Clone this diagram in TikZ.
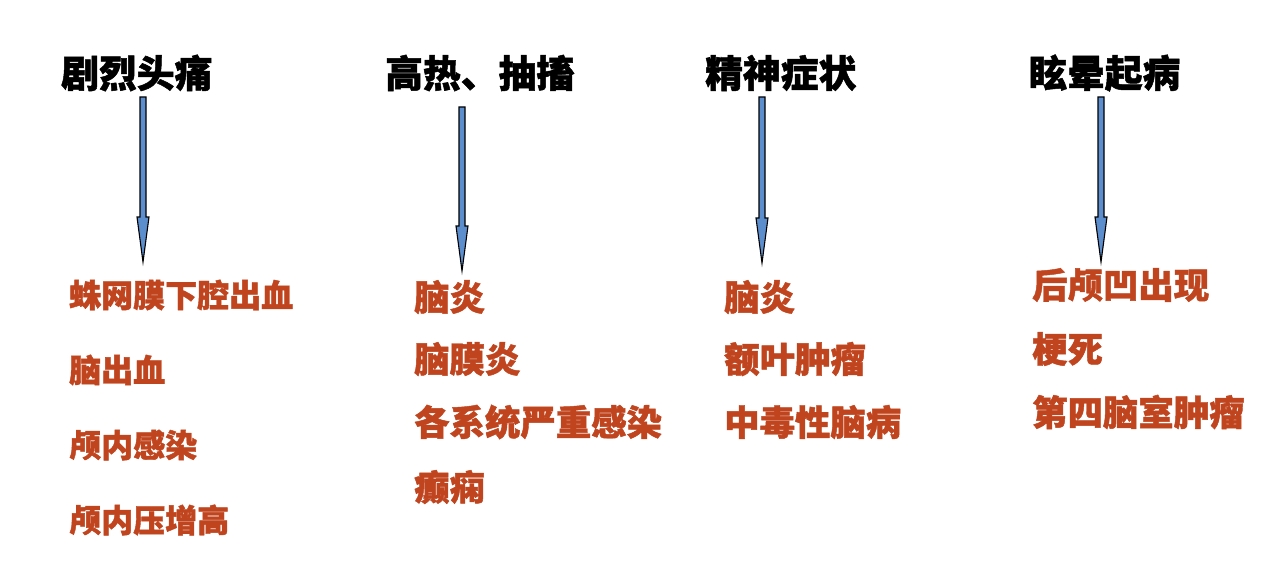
\documentclass[tikz,border=0pt]{standalone}
\usepackage{fontspec}
\newfontfamily\cjk[BoldFeatures={FakeBold=1.3}]{Noto Sans CJK SC}
\usetikzlibrary{calc}
\definecolor{itemred}{RGB}{192,68,30}
\definecolor{arrowblue}{RGB}{92,142,205}
\tikzset{
  title/.style={anchor=west,inner sep=0pt,font=\cjk\bfseries\fontsize{37.8}{40}\selectfont,text=black},
  item/.style={anchor=west,inner sep=0pt,font=\cjk\bfseries\fontsize{35.4}{38}\selectfont,text=itemred},
  itemsmall/.style={item,font=\cjk\bfseries\fontsize{32}{34}\selectfont},
  barrow/.style={draw=black,line width=1.1pt,fill=arrowblue,line join=miter},
}
\newcommand\blockarrow[2]{%
  \draw[barrow] ($(#1)+(-3,0)$) -- ($(#2)+(-3,-45)$) -- ($(#2)+(-6,-45)$) -- (#2)
    -- ($(#2)+(6,-45)$) -- ($(#2)+(3,-45)$) -- ($(#1)+(3,0)$) -- cycle;}
\begin{document}
\begin{tikzpicture}[x=1pt,y=-1pt]
\useasboundingbox[fill=white] (0,0) rectangle (1276,572);
% titles
\node[title] (t1) at (61,73) {剧烈头痛};
\node[title] (t2) at (385,73) {高热、抽搐};
\node[title] (t3) at (705,73) {精神症状};
\node[title] (t4) at (1029,73) {眩晕起病};
% column 1
\node[itemsmall] (a1) at (69,295) {蛛网膜下腔出血};
\node[itemsmall] (a2) at (69,370) {脑出血};
\node[itemsmall] (a3) at (69,445) {颅内感染};
\node[itemsmall] (a4) at (69,520) {颅内压增高};
% column 2
\node[item] (b1) at (414,297) {脑炎};
\node[item] (b2) at (414,359) {脑膜炎};
\node[item] (b3) at (414,422) {各系统严重感染};
\node[item] (b4) at (414,487) {癫痫};
% column 3
\node[item] (c1) at (724,297) {脑炎};
\node[item] (c2) at (724,359) {额叶肿瘤};
\node[item] (c3) at (724,422) {中毒性脑病};
% column 4
\node[item] (d1) at (1032,285) {后颅凹出现};
\node[item] (d2) at (1032,349) {梗死};
\node[item] (d3) at (1032,412) {第四脑室肿瘤};
% arrow ends
\coordinate (s1) at (143,97);  \coordinate (e1) at (143,262);
\coordinate (s2) at (462,107); \coordinate (e2) at (462,271);
\coordinate (s3) at (762,97);  \coordinate (e3) at (762,263);
\coordinate (s4) at (1101,97); \coordinate (e4) at (1101,262);
\blockarrow{s1}{e1}
\blockarrow{s2}{e2}
\blockarrow{s3}{e3}
\blockarrow{s4}{e4}
\end{tikzpicture}
\end{document}
